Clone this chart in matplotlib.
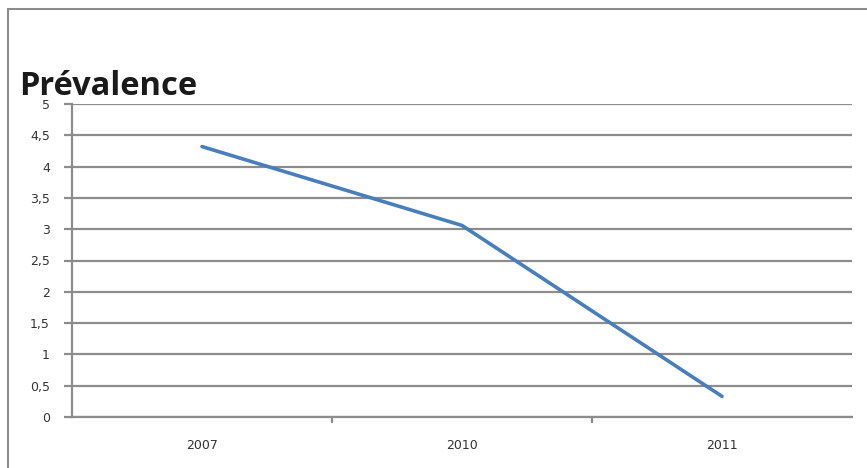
import matplotlib
matplotlib.use("Agg")
import matplotlib.pyplot as plt
from matplotlib.patches import Rectangle
import numpy as np

years = ["2007", "2010", "2011"]
prevalence = [4.32, 3.06, 0.33]
y_ticks = [0, 0.5, 1, 1.5, 2, 2.5, 3, 3.5, 4, 4.5, 5]
y_labels = ["0", "0,5", "1", "1,5", "2", "2,5", "3", "3,5", "4", "4,5", "5"]

grid_col = "#8c8c8c"
line_col = "#4a7ebb"

fig = plt.figure(figsize=(8.67, 4.68), dpi=100)
# outer chart frame, cut off at right/bottom like the screenshot
fig.patches.append(Rectangle((8 / 867, -0.1), 1.2, 1 - 9 / 468 + 0.1,
                             transform=fig.transFigure, fill=False,
                             edgecolor=grid_col, linewidth=1.5))

ax = fig.add_axes([72 / 867, 1 - 417 / 468, (852 - 72) / 867, (417 - 104) / 468])
x = np.arange(len(years))
ax.plot(x, prevalence, color=line_col, linewidth=2.6, solid_capstyle="round")

ax.set_xlim(-0.5, len(years) - 0.5)
ax.set_ylim(0, 5)
ax.set_yticks(y_ticks)
ax.set_yticklabels(y_labels)
ax.set_xticks(x)
ax.set_xticklabels(years)
# category separators between the labels only
ax.set_xticks(np.arange(1, len(years)) - 0.5, minor=True)

ax.grid(axis="y", color=grid_col, linewidth=1.6)
ax.set_axisbelow(True)
for s in ["top", "right"]:
    ax.spines[s].set_visible(False)
for s in ["left", "bottom"]:
    ax.spines[s].set_color(grid_col)
    ax.spines[s].set_linewidth(1.6)

ax.tick_params(axis="y", length=6, width=1.6, color=grid_col, labelsize=9,
               labelcolor="#333333", pad=10)
ax.tick_params(axis="x", which="major", length=0, labelsize=9,
               labelcolor="#333333", pad=16)
ax.tick_params(axis="x", which="minor", length=4, width=1.6, color=grid_col)

fig.text(19 / 867, 1 - 95 / 468, "Prévalence", fontsize=23.5, fontweight="bold",
         family="Open Sans", color="#1a1a1a", va="baseline", ha="left")

fig.savefig("out.png", dpi=100)
